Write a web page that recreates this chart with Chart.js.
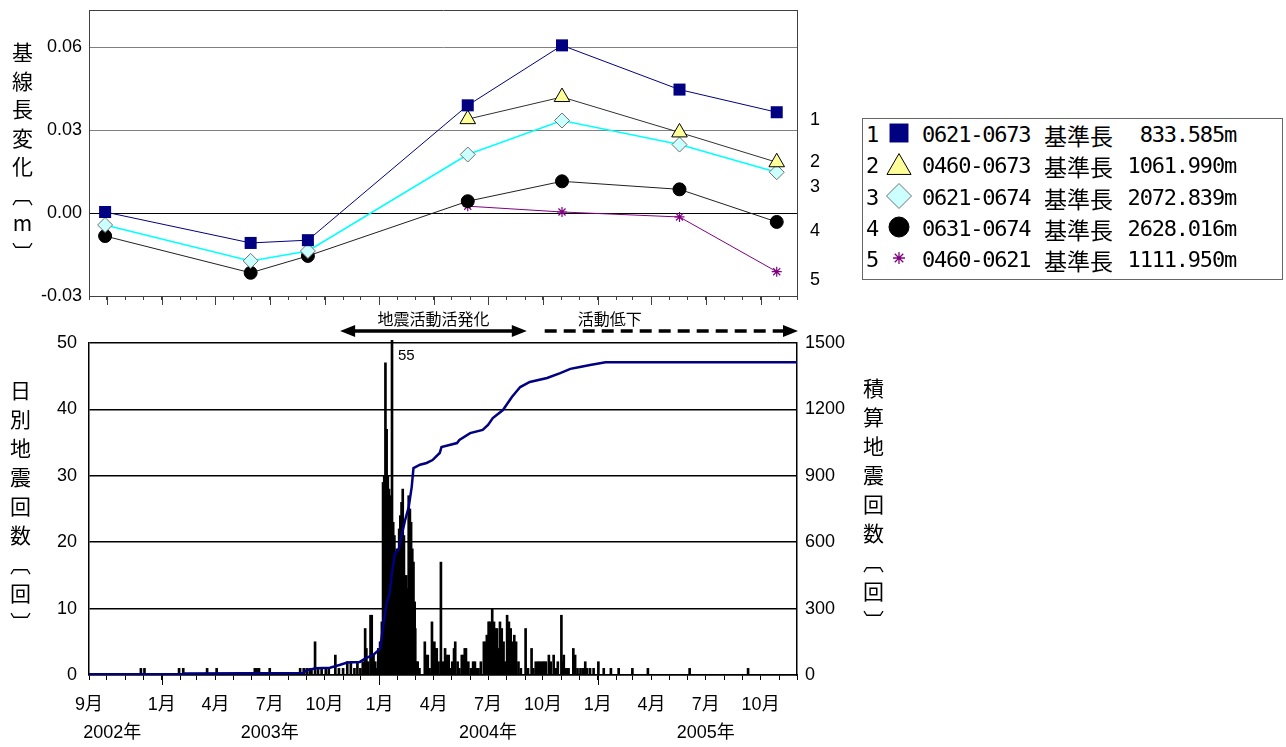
<!DOCTYPE html>
<html lang="ja">
<head>
<meta charset="utf-8">
<title>基線長変化と日別地震回数</title>
<script src="https://cdn.jsdelivr.net/npm/chart.js@4.4.1/dist/chart.umd.min.js"></script>
<style>
  body { margin: 0; background: #fff; }
  #page { position: relative; width: 1286px; height: 747px; overflow: hidden; background: #fff; }
  #page canvas { position: absolute; left: 0; }
  .vt { position: absolute; writing-mode: vertical-rl; text-orientation: upright; font-family: 'Noto Sans CJK JP', sans-serif;
        font-size: 21px; line-height: 21px; white-space: nowrap; color: #000; }
  #legendBox { position: absolute; left: 862px; top: 118px; width: 421px; height: 162px; border: 1px solid #666; box-sizing: border-box; }
  .lg { position: absolute; height: 24px; line-height: 24px; white-space: nowrap; color: #000; }
  .mono { font-family: 'DejaVu Sans Mono', monospace; font-size: 22px; letter-spacing: -1.2px; }
  .cjk { font-family: 'Noto Sans CJK JP', sans-serif; font-size: 23px; }
</style>
</head>
<body>
<div id="page">
  <canvas id="topChart" width="850" height="306" style="top:0"></canvas>
  <canvas id="quakeChart" width="860" height="441" style="top:306px"></canvas>
  <div class="vt" style="left:11.5px; top:41.5px; letter-spacing:7.5px">基線長変化〔m〕</div>
  <div class="vt" style="left:9.5px; top:380px; letter-spacing:8px">日別地震回数〔回〕</div>
  <div class="vt" style="left:862.5px; top:378px; letter-spacing:8px">積算地震回数〔回〕</div>
  <div id="legendBox"></div>
</div>
<script>
// survey dates of the baseline measurements
const surveyDates = ['2002-09-28', '2003-05-30', '2003-09-03', '2004-05-28', '2004-11-02', '2005-05-18', '2005-10-28'];
// baseline length change [m]
const baseline1 = [0.0004, -0.0108, -0.0098, 0.0390, 0.0607, 0.0447, 0.0365];
const baseline2 = [null, null, null, 0.0340, 0.0420, 0.0292, 0.0184];
const baseline3 = [-0.0043, -0.0173, -0.0137, 0.0212, 0.0335, 0.0248, 0.0148];
const baseline4 = [-0.0083, -0.0216, -0.0155, 0.0043, 0.0115, 0.0086, -0.0032];
const baseline5 = [null, null, null, 0.0025, 0.0004, -0.0014, -0.0212];
const lineIds = ['0621-0673', '0460-0673', '0621-0674', '0631-0674', '0460-0621'];
const baseLengths = ['833.585m', '1061.990m', '2072.839m', '2628.016m', '1111.950m'];
const tagLabels = ['1', '2', '3', '4', '5'];
const tagValues = [0.0338, 0.0184, 0.0094, -0.0065, -0.0241];
const topTicks = [-0.03, 0, 0.03, 0.06];

// daily earthquake counts (days without a bar are left out)
const quakeDates = [
  '2002-11-27', '2002-12-03', '2003-01-30', '2003-02-06', '2003-03-18', '2003-04-03', '2003-06-06', '2003-06-09',
  '2003-06-13', '2003-07-01', '2003-08-21', '2003-08-27', '2003-09-01', '2003-09-06', '2003-09-09', '2003-09-15',
  '2003-09-20', '2003-09-26', '2003-10-03', '2003-10-08', '2003-10-19', '2003-10-25', '2003-11-01', '2003-11-08',
  '2003-11-14', '2003-11-20', '2003-11-25', '2003-11-30', '2003-12-04', '2003-12-08', '2003-12-10', '2003-12-13',
  '2003-12-17', '2003-12-19', '2003-12-22', '2003-12-25', '2003-12-27', '2003-12-30', '2004-01-02', '2004-01-05',
  '2004-01-07', '2004-01-09', '2004-01-11', '2004-01-13', '2004-01-15', '2004-01-17', '2004-01-19', '2004-01-22',
  '2004-01-24', '2004-01-26', '2004-01-28', '2004-01-30', '2004-02-01', '2004-02-03', '2004-02-05', '2004-02-07',
  '2004-02-09', '2004-02-11', '2004-02-13', '2004-02-15', '2004-02-17', '2004-02-19', '2004-02-21', '2004-02-23',
  '2004-02-25', '2004-02-27', '2004-02-29', '2004-03-01', '2004-03-03', '2004-03-05', '2004-03-08', '2004-03-17',
  '2004-03-19', '2004-03-22', '2004-03-25', '2004-03-29', '2004-04-02', '2004-04-04', '2004-04-06', '2004-04-09',
  '2004-04-13', '2004-04-16', '2004-04-20', '2004-04-23', '2004-04-26', '2004-04-29', '2004-05-02', '2004-05-05',
  '2004-05-07', '2004-05-11', '2004-05-14', '2004-05-18', '2004-05-21', '2004-05-23', '2004-05-25', '2004-05-29',
  '2004-06-02', '2004-06-06', '2004-06-09', '2004-06-12', '2004-06-15', '2004-06-19', '2004-06-24', '2004-06-27',
  '2004-06-29', '2004-07-02', '2004-07-04', '2004-07-08', '2004-07-11', '2004-07-13', '2004-07-16', '2004-07-19',
  '2004-07-21', '2004-07-24', '2004-07-27', '2004-07-30', '2004-08-02', '2004-08-05', '2004-08-08', '2004-08-11',
  '2004-08-14', '2004-08-17', '2004-08-21', '2004-08-25', '2004-09-02', '2004-09-06', '2004-09-12', '2004-09-15',
  '2004-09-19', '2004-09-23', '2004-09-26', '2004-09-30', '2004-10-03', '2004-10-06', '2004-10-11', '2004-10-14',
  '2004-10-19', '2004-10-23', '2004-10-26', '2004-11-01', '2004-11-03', '2004-11-05', '2004-11-07', '2004-11-10',
  '2004-11-13', '2004-11-21', '2004-11-24', '2004-11-28', '2004-12-03', '2004-12-07', '2004-12-11', '2004-12-14',
  '2004-12-19', '2004-12-25', '2005-01-02', '2005-01-11', '2005-01-23', '2005-02-05', '2005-02-28', '2005-03-26',
  '2005-06-04', '2005-09-10'
];
const quakeCounts = [
  1, 1, 1, 1, 1, 1, 1, 1,
  1, 1, 1, 1, 1, 1, 1, 5,
  1, 1, 1, 1, 3, 1, 1, 2,
  2, 1, 2, 1, 2, 7, 4, 2,
  9, 9, 3, 2, 1, 4, 5, 8,
  29, 30, 47, 37, 30, 28, 27, 55,
  23, 21, 18, 19, 17, 22, 24, 26,
  28, 21, 14, 15, 13, 27, 25, 23,
  19, 17, 11, 7, 2, 2, 1, 5,
  3, 3, 1, 8, 5, 4, 4, 2,
  17, 2, 4, 3, 3, 1, 2, 4,
  5, 2, 1, 3, 3, 4, 4, 2,
  1, 2, 2, 1, 1, 2, 5, 5,
  6, 8, 8, 10, 8, 7, 7, 4,
  8, 7, 5, 2, 9, 8, 7, 5,
  6, 5, 2, 1, 7, 1, 4, 1,
  2, 2, 2, 2, 2, 2, 3, 2,
  3, 1, 2, 9, 2, 3, 1, 1,
  1, 4, 3, 1, 1, 1, 2, 1,
  1, 1, 2, 1, 1, 1, 1, 1,
  1, 1
];

// cumulative earthquake count
const cumDates = [
  '2002-09-01', '2003-02-05', '2003-02-08', '2003-08-25', '2003-09-02', '2003-09-16', '2003-10-10', '2003-10-26',
  '2003-11-08', '2003-11-29', '2003-12-10', '2003-12-21', '2004-01-02', '2004-01-07', '2004-01-13', '2004-01-18',
  '2004-01-22', '2004-01-27', '2004-02-02', '2004-02-08', '2004-02-13', '2004-02-19', '2004-02-24', '2004-02-27',
  '2004-03-09', '2004-03-20', '2004-03-30', '2004-04-11', '2004-04-14', '2004-05-10', '2004-05-14', '2004-06-01',
  '2004-06-22', '2004-07-01', '2004-07-09', '2004-07-26', '2004-08-10', '2004-08-24', '2004-09-09', '2004-10-08',
  '2004-10-30', '2004-11-16', '2004-12-02', '2004-12-19', '2005-01-14', '2005-12-01'
];
const cumCounts = [
  3, 3, 7, 9, 22, 30, 33, 45,
  56, 59, 77, 90, 118, 217, 325, 370,
  461, 551, 565, 641, 700, 759, 849, 935,
  950, 958, 971, 1003, 1030, 1048, 1062, 1093,
  1107, 1130, 1161, 1197, 1256, 1301, 1324, 1342,
  1364, 1383, 1392, 1401, 1413, 1413
];
const yearLabelDates = ['2002-10-10', '2003-07-01', '2004-07-01', '2005-07-01'];
const yearLabels = ['2002年', '2003年', '2004年', '2005年'];

// annotation spans above the lower chart
const activeSpan = ['2003-10-27', '2004-09-04'];
const calmStart = '2004-10-04';
const calmTextDate = '2005-01-21';

const START = '2002-09-01';
const dayOf = s => (Date.parse(s) - Date.parse(START)) / 864e5;
const END_DAY = dayOf('2005-12-01');
const TOP_MAX = 0.0735;
const FONT = "'Liberation Sans', 'Noto Sans CJK JP', sans-serif";

Chart.defaults.font.family = FONT;
Chart.defaults.font.size = 18;
Chart.defaults.color = '#000';

const monthStarts = [];
for (let i = 0; i <= 39; i++) {
  const d = new Date(Date.UTC(2002, 8 + i, 1));
  monthStarts.push({ day: (d - Date.UTC(2002, 8, 1)) / 864e5, m: d.getUTCMonth() + 1 });
}
const quarterDays = monthStarts.filter(t => [1, 4, 7, 10].includes(t.m)).map(t => t.day);
const januaryDays = monthStarts.filter(t => t.m === 1).map(t => t.day);

// labels of the lower time axis: first month, then quarters from 2003
const xLabels = new Map();
monthStarts.forEach((t, i) => {
  if (i === 0 || (t.day > 100 && [1, 4, 7, 10].includes(t.m))) xLabels.set(t.day, [t.m + '月']);
});
const extraTicks = [];
yearLabelDates.forEach((s, i) => {
  const d = dayOf(s);
  if (xLabels.has(d)) xLabels.get(d).push(yearLabels[i]);
  else { xLabels.set(d, ['', yearLabels[i]]); extraTicks.push(d); }
});
const bottomTickDays = monthStarts.map(t => t.day).concat(extraTicks).sort((a, b) => a - b);

function longTicks(days, len, color) {
  return {
    id: 'longTicks',
    afterDraw(chart) {
      const { ctx, chartArea, scales } = chart;
      ctx.save();
      ctx.strokeStyle = color;
      ctx.lineWidth = 1;
      days.forEach(d => {
        const px = Math.round(scales.x.getPixelForValue(d)) + 0.5;
        ctx.beginPath();
        ctx.moveTo(px, chartArea.bottom);
        ctx.lineTo(px, chartArea.bottom + len);
        ctx.stroke();
      });
      ctx.restore();
    }
  };
}

// ---------- upper chart: baseline changes ----------
const baselineSeries = [baseline1, baseline2, baseline3, baseline4, baseline5];
const seriesStyles = [
  { borderColor: '#000080', borderWidth: 1, pointStyle: 'rect', pointRadius: 8.5,
    pointBackgroundColor: '#000080', pointBorderColor: '#000080', pointBorderWidth: 0 },
  { borderColor: '#303030', borderWidth: 1, pointStyle: 'triangle', pointRadius: 9,
    pointBackgroundColor: '#ffff99', pointBorderColor: '#000', pointBorderWidth: 1 },
  { borderColor: '#00ffff', borderWidth: 1.5, pointStyle: 'rectRot', pointRadius: 7.5,
    pointBackgroundColor: '#ccffff', pointBorderColor: '#707070', pointBorderWidth: 1 },
  { borderColor: '#202020', borderWidth: 1, pointStyle: 'circle', pointRadius: 6.5,
    pointBackgroundColor: '#000', pointBorderColor: '#000', pointBorderWidth: 1 },
  { borderColor: '#800080', borderWidth: 1, pointStyle: 'star', pointRadius: 5,
    pointBackgroundColor: '#800080', pointBorderColor: '#800080', pointBorderWidth: 1.2 }
];
const toPoints = arr => arr.map((v, i) => ({ x: dayOf(surveyDates[i]), y: v })).filter(p => p.y !== null);
const CLEAR = 'rgba(0,0,0,0)';

new Chart(document.getElementById('topChart'), {
  type: 'line',
  data: {
    datasets: baselineSeries.map((arr, i) => Object.assign({ label: tagLabels[i], data: toPoints(arr), tension: 0 }, seriesStyles[i]))
  },
  options: {
    responsive: false,
    animation: false,
    layout: { padding: 0 },
    plugins: { legend: { display: false }, tooltip: { enabled: false } },
    scales: {
      x: {
        type: 'linear', min: 0, max: END_DAY,
        afterBuildTicks: s => { s.ticks = monthStarts.map(t => ({ value: t.day })); },
        afterFit: s => { s.height = 10; },
        ticks: { display: false, autoSkip: false, maxRotation: 0 },
        grid: { drawOnChartArea: false, tickLength: 4, tickColor: '#404040' },
        border: { color: '#404040' }
      },
      xTop: {
        type: 'linear', position: 'top', min: 0, max: END_DAY,
        afterFit: s => { s.height = 10; },
        ticks: { display: false },
        grid: { display: false, drawTicks: false },
        border: { display: true, color: '#404040' }
      },
      y: {
        min: -0.03, max: TOP_MAX,
        afterBuildTicks: s => { s.ticks = topTicks.map(v => ({ value: v })); },
        afterFit: s => { s.width = 89; },
        ticks: { callback: v => v.toFixed(2), padding: 0, font: { size: 18, lineHeight: 1 } },
        grid: {
          tickLength: 7, tickColor: CLEAR,
          color: c => (c.tick.value === 0 ? '#000' : c.tick.value > 0 ? '#808080' : '#404040')
        },
        border: { color: '#404040' }
      },
      y2: {
        position: 'right', min: -0.03, max: TOP_MAX,
        afterBuildTicks: s => { s.ticks = tagValues.slice().sort((a, b) => a - b).map(v => ({ value: v })); },
        afterFit: s => { s.width = 53; },
        ticks: { callback: v => tagLabels[tagValues.indexOf(v)], padding: 0, font: { size: 18, lineHeight: 1 } },
        grid: { drawOnChartArea: false, tickLength: 13, tickColor: CLEAR },
        border: { color: '#404040' }
      }
    }
  },
  plugins: [longTicks(quarterDays, 9, '#404040')]
});

// ---------- lower chart: daily and cumulative earthquakes ----------
const quakePoints = quakeDates.map((s, i) => ({ x: dayOf(s), y: quakeCounts[i] }));
const cumPoints = cumDates.map((s, i) => ({ x: dayOf(s), y: cumCounts[i] }));

const notes = {
  id: 'notes',
  afterDraw(chart) {
    const { ctx, chartArea, scales } = chart;
    const x = scales.x;
    const y = 25;
    const head = (tip, dir) => {
      ctx.beginPath();
      ctx.moveTo(tip, y);
      ctx.lineTo(tip - dir * 15, y - 6);
      ctx.lineTo(tip - dir * 15, y + 6);
      ctx.closePath();
      ctx.fill();
    };
    ctx.save();
    ctx.fillStyle = '#000';
    ctx.strokeStyle = '#000';
    // 地震活動活発化
    const a = x.getPixelForValue(dayOf(activeSpan[0]));
    const b = x.getPixelForValue(dayOf(activeSpan[1]));
    ctx.lineWidth = 3.5;
    ctx.beginPath();
    ctx.moveTo(a + 10, y);
    ctx.lineTo(b - 10, y);
    ctx.stroke();
    head(a, -1);
    head(b, 1);
    // 活動低下
    const c = x.getPixelForValue(dayOf(calmStart));
    const r = chartArea.right;
    ctx.setLineDash([12, 7]);
    ctx.beginPath();
    ctx.moveTo(c, y);
    ctx.lineTo(r - 12, y);
    ctx.stroke();
    ctx.setLineDash([]);
    head(r + 1, 1);
    ctx.font = "16px 'Noto Sans CJK JP', sans-serif";
    ctx.textAlign = 'center';
    ctx.textBaseline = 'middle';
    ctx.fillText('地震活動活発化', (a + b) / 2, 13);
    ctx.fillText('活動低下', x.getPixelForValue(dayOf(calmTextDate)), 13);
    // value of the bar running off the axis
    const iMax = quakeCounts.indexOf(Math.max(...quakeCounts));
    ctx.font = '15px ' + FONT;
    ctx.textAlign = 'left';
    ctx.fillText(String(quakeCounts[iMax]), x.getPixelForValue(dayOf(quakeDates[iMax])) + 6, chartArea.top + 13);
    ctx.restore();
  }
};

new Chart(document.getElementById('quakeChart'), {
  type: 'bar',
  data: {
    datasets: [
      { type: 'line', label: '積算', data: cumPoints, yAxisID: 'y2', borderColor: '#000080', borderWidth: 2.5,
        pointRadius: 0, tension: 0, order: 0 },
      { type: 'bar', label: '日別', data: quakePoints, yAxisID: 'y', backgroundColor: '#000', barThickness: 2,
        order: 1, clip: { left: 4, top: 3, right: 4, bottom: 0 } }
    ]
  },
  options: {
    responsive: false,
    animation: false,
    layout: { padding: { top: 37, left: 0, right: 0, bottom: 0 } },
    plugins: { legend: { display: false }, tooltip: { enabled: false } },
    scales: {
      x: {
        type: 'linear', min: 0, max: END_DAY, offset: false,
        afterBuildTicks: s => { s.ticks = bottomTickDays.map(v => ({ value: v })); },
        afterFit: s => { s.height = 72; },
        ticks: { callback: v => xLabels.get(v) || '', autoSkip: false, maxRotation: 0, minRotation: 0, padding: 11,
                 font: { size: 18, lineHeight: 1.55 } },
        grid: { offset: false, drawOnChartArea: false, tickLength: 5,
                tickColor: c => (c.tick && extraTicks.includes(c.tick.value) ? CLEAR : '#000') },
        border: { color: '#000', width: 1.5 }
      },
      y: {
        min: 0, max: 50,
        afterFit: s => { s.width = 89; },
        ticks: { stepSize: 10, padding: 12 },
        grid: { color: '#000', lineWidth: 1.5, drawTicks: false },
        border: { color: '#000', width: 1.5 }
      },
      y2: {
        position: 'right', min: 0, max: 1500,
        afterFit: s => { s.width = 63; },
        ticks: { stepSize: 300, padding: 8, callback: v => String(v) },
        grid: { drawOnChartArea: false, drawTicks: false },
        border: { color: '#000', width: 1.5 }
      }
    }
  },
  plugins: [longTicks(januaryDays, 10, '#000'), notes]
});

// ---------- legend ----------
const page = document.getElementById('page');
const legendMarks = [
  { pointStyle: 'rect', radius: 13.4, fill: '#000080', stroke: '#000080', borderWidth: 0, dy: 0 },
  { pointStyle: 'triangle', radius: 13.9, fill: '#ffff99', stroke: '#000', borderWidth: 1, dy: 3.5 },
  { pointStyle: 'rectRot', radius: 12.5, fill: '#ccffff', stroke: '#707070', borderWidth: 1, dy: 0 },
  { pointStyle: 'circle', radius: 10, fill: '#000', stroke: '#000', borderWidth: 1, dy: 0 },
  { pointStyle: 'star', radius: 6, fill: '#800080', stroke: '#800080', borderWidth: 1.3, dy: 0 }
];
function addSpan(text, cls, left, cy, extra) {
  const el = document.createElement('span');
  el.className = 'lg ' + cls;
  el.textContent = text;
  el.style.left = left + 'px';
  el.style.top = (cy - 12) + 'px';
  if (extra) Object.assign(el.style, extra);
  page.appendChild(el);
}
lineIds.forEach((id, i) => {
  const cy = 135 + 31.25 * i;
  addSpan(tagLabels[i], 'mono', 866, cy);
  const cv = document.createElement('canvas');
  cv.width = 30; cv.height = 30;
  cv.style.left = '884px';
  cv.style.top = (cy - 17) + 'px';
  page.appendChild(cv);
  const g = cv.getContext('2d');
  const mk = legendMarks[i];
  g.fillStyle = mk.fill;
  g.strokeStyle = mk.stroke;
  g.lineWidth = mk.borderWidth;
  if (Chart.helpers && Chart.helpers.drawPoint) {
    Chart.helpers.drawPoint(g, { pointStyle: mk.pointStyle, radius: mk.radius, borderWidth: mk.borderWidth, rotation: 0 }, 15, 15 + mk.dy);
  }
  addSpan(id, 'mono', 922, cy);
  addSpan('基準長', 'cjk', 1044, cy);
  addSpan(baseLengths[i], 'mono', 1116, cy, { width: '120px', textAlign: 'right' });
});
</script>
</body>
</html>
